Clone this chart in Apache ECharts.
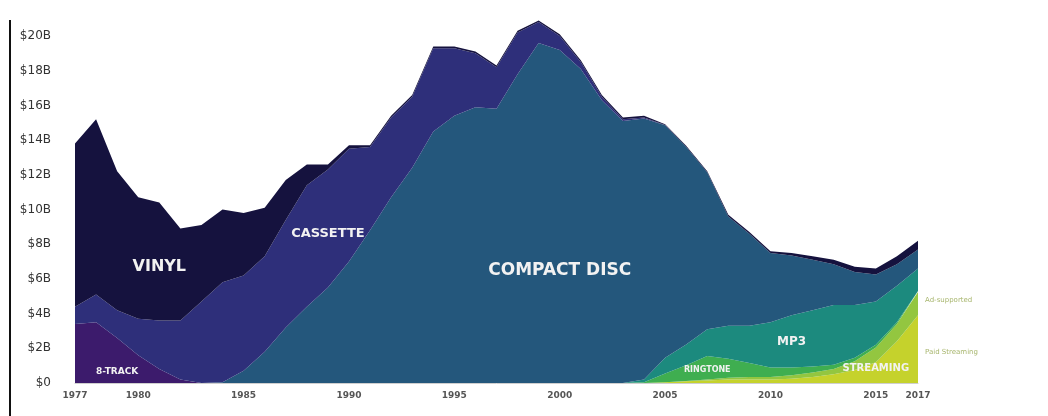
<!DOCTYPE html>
<html>
<head>
    <meta charset="utf-8">
    <title>Music sales by format</title>
    <script src="https://cdn.jsdelivr.net/npm/echarts@6/dist/echarts.min.js"></script>
    <style>
        body { margin: 0; background: #fff; }
    </style>
</head>
<body>
    <div id="main" style="width: 1048px;height:416px;"></div>
    <script type="text/javascript">
        // years 1977..2017, values in $B
        var years = [];
        for (var y = 1977; y <= 2017; y++) years.push(String(y));
        var yearTicks = ['1977', '1980', '1985', '1990', '1995', '2000', '2005', '2010', '2015', '2017'];

        var paidStreaming = [0, 0, 0, 0, 0, 0, 0, 0, 0, 0,
            0, 0, 0, 0, 0, 0, 0, 0, 0, 0,
            0, 0, 0, 0, 0, 0, 0, 0, 0.05, 0.1,
            0.15, 0.2, 0.2, 0.2, 0.25, 0.35, 0.5, 0.75, 1.2, 2.4,
            3.9];
        var adSupported = [0, 0, 0, 0, 0, 0, 0, 0, 0, 0,
            0, 0, 0, 0, 0, 0, 0, 0, 0, 0,
            0, 0, 0, 0, 0, 0, 0, 0, 0, 0.02,
            0.05, 0.1, 0.15, 0.15, 0.2, 0.25, 0.3, 0.5, 0.85, 1.0,
            1.35];
        var ringtone = [0, 0, 0, 0, 0, 0, 0, 0, 0, 0,
            0, 0, 0, 0, 0, 0, 0, 0, 0, 0,
            0, 0, 0, 0, 0, 0, 0, 0.05, 0.5, 0.9,
            1.35, 1.1, 0.8, 0.55, 0.45, 0.35, 0.25, 0.2, 0.15, 0.1,
            0.05];
        var mp3 = [0, 0, 0, 0, 0, 0, 0, 0, 0, 0,
            0, 0, 0, 0, 0, 0, 0, 0, 0, 0,
            0, 0, 0, 0, 0, 0, 0, 0.15, 0.9, 1.2,
            1.55, 1.9, 2.15, 2.6, 3.0, 3.25, 3.45, 3.05, 2.5, 2.1,
            1.3];
        var compactDisc = [0, 0, 0, 0, 0, 0, 0, 0.05, 0.7, 1.8,
            3.2, 4.4, 5.5, 7.0, 8.8, 10.7, 12.4, 14.5, 15.4, 15.9,
            15.8, 17.8, 19.6, 19.2, 18.1, 16.3, 15.1, 15.05, 13.4, 11.4,
            9.05, 6.3, 5.3, 4.0, 3.45, 2.9, 2.35, 1.9, 1.55, 1.25,
            1.1];
        var eightTrack = [3.4, 3.5, 2.6, 1.6, 0.8, 0.2, 0, 0, 0, 0,
            0, 0, 0, 0, 0, 0, 0, 0, 0, 0,
            0, 0, 0, 0, 0, 0, 0, 0, 0, 0,
            0, 0, 0, 0, 0, 0, 0, 0, 0, 0,
            0];
        var cassette = [1.0, 1.6, 1.6, 2.1, 2.8, 3.4, 4.7, 5.75, 5.5, 5.5,
            6.2, 7.0, 6.8, 6.5, 4.8, 4.6, 4.1, 4.8, 3.9, 3.1,
            2.4, 2.4, 1.2, 0.8, 0.4, 0.2, 0.1, 0.05, 0.02, 0,
            0, 0, 0, 0, 0, 0, 0, 0, 0, 0,
            0];
        var vinyl = [9.4, 10.1, 8.0, 7.0, 6.8, 5.3, 4.4, 4.2, 3.6, 2.8,
            2.3, 1.2, 0.3, 0.2, 0.1, 0.1, 0.1, 0.1, 0.1, 0.1,
            0.1, 0.1, 0.1, 0.1, 0.1, 0.1, 0.1, 0.1, 0.05, 0.05,
            0.05, 0.1, 0.1, 0.1, 0.15, 0.2, 0.25, 0.3, 0.35, 0.45,
            0.5];

        // stack order bottom -> top
        var formats = [
            { name: 'Paid Streaming', data: paidStreaming, color: '#c5d22c' },
            { name: 'Ad-supported', data: adSupported, color: '#93c640' },
            { name: 'Ringtone', data: ringtone, color: '#3fae50' },
            { name: 'MP3', data: mp3, color: '#1c8a7e' },
            { name: 'Compact Disc', data: compactDisc, color: '#24577c' },
            { name: '8-Track', data: eightTrack, color: '#3c1b6c' },
            { name: 'Cassette', data: cassette, color: '#2e2f7a' },
            { name: 'Vinyl', data: vinyl, color: '#15123e' }
        ];

        // in-chart labels, placed in data space (year, $B)
        var areaLabels = [
            { text: 'VINYL', year: 1981, value: 6.7, size: 16 },
            { text: 'CASSETTE', year: 1988.9, value: 8.6, size: 13 },
            { text: 'COMPACT DISC', year: 2000, value: 6.5, size: 17 },
            { text: '8-TRACK', year: 1978.7, value: 0.63, size: 9 },
            { text: 'RINGTONE', year: 2007.4, value: 0.75, size: 8 },
            { text: 'MP3', year: 2010.8, value: 2.35, size: 12 },
            { text: 'STREAMING', year: 2014.6, value: 0.85, size: 10 }
        ];
        var sideLabels = [
            { text: 'Ad-supported', year: 2017, value: 4.8 },
            { text: 'Paid Streaming', year: 2017, value: 1.8 }
        ];

        var myChart = echarts.init(document.getElementById('main'));

        var option = {
            animation: false,
            grid: { left: 75, right: 130, top: 36, bottom: 33 },
            xAxis: {
                type: 'category',
                boundaryGap: false,
                data: years,
                splitLine: { show: false },
                axisLine: { show: true, lineStyle: { color: '#cfcfcf', width: 1 } },
                axisTick: { show: false },
                axisLabel: {
                    interval: function (i, v) { return yearTicks.indexOf(v) >= 0; },
                    fontFamily: 'DejaVu Sans',
                    fontWeight: 'bold',
                    fontSize: 9,
                    color: '#555',
                    margin: 8
                }
            },
            yAxis: {
                type: 'value',
                min: 0,
                max: 20,
                interval: 2,
                splitLine: { show: false },
                axisLine: { show: false },
                axisTick: { show: false },
                axisLabel: {
                    formatter: function (v) { return v === 0 ? '$0' : '$' + v + 'B'; },
                    fontFamily: 'DejaVu Sans',
                    fontSize: 12,
                    color: '#333',
                    margin: 24
                }
            },
            series: formats.map(function (f) {
                return {
                    name: f.name,
                    type: 'line',
                    stack: 'sales',
                    clip: false,
                    showSymbol: false,
                    symbol: 'none',
                    lineStyle: { width: 0, color: f.color },
                    itemStyle: { color: f.color },
                    areaStyle: { color: f.color, opacity: 1 },
                    data: f.data
                };
            })
        };
        myChart.setOption(option);

        // texts positioned through the chart's own scales
        var graphics = [{
            type: 'line',
            z: 100,
            shape: { x1: 10, y1: 20, x2: 10, y2: 416 },
            style: { stroke: '#111', lineWidth: 2 }
        }];
        areaLabels.forEach(function (l) {
            var p = myChart.convertToPixel({ gridIndex: 0 }, [l.year - 1977, l.value]);
            graphics.push({
                type: 'text',
                z: 100,
                x: p[0], y: p[1],
                style: {
                    text: l.text,
                    fill: '#f2f2f2',
                    font: 'bold ' + l.size + 'px "DejaVu Sans"',
                    align: 'center',
                    verticalAlign: 'middle'
                }
            });
        });
        sideLabels.forEach(function (l) {
            var p = myChart.convertToPixel({ gridIndex: 0 }, [l.year - 1977, l.value]);
            graphics.push({
                type: 'text',
                z: 100,
                x: p[0] + 7, y: p[1],
                style: {
                    text: l.text,
                    fill: '#a8b66e',
                    font: '7px "DejaVu Sans"',
                    align: 'left',
                    verticalAlign: 'middle'
                }
            });
        });
        myChart.setOption({ graphic: graphics });
    </script>
</body>
</html>
